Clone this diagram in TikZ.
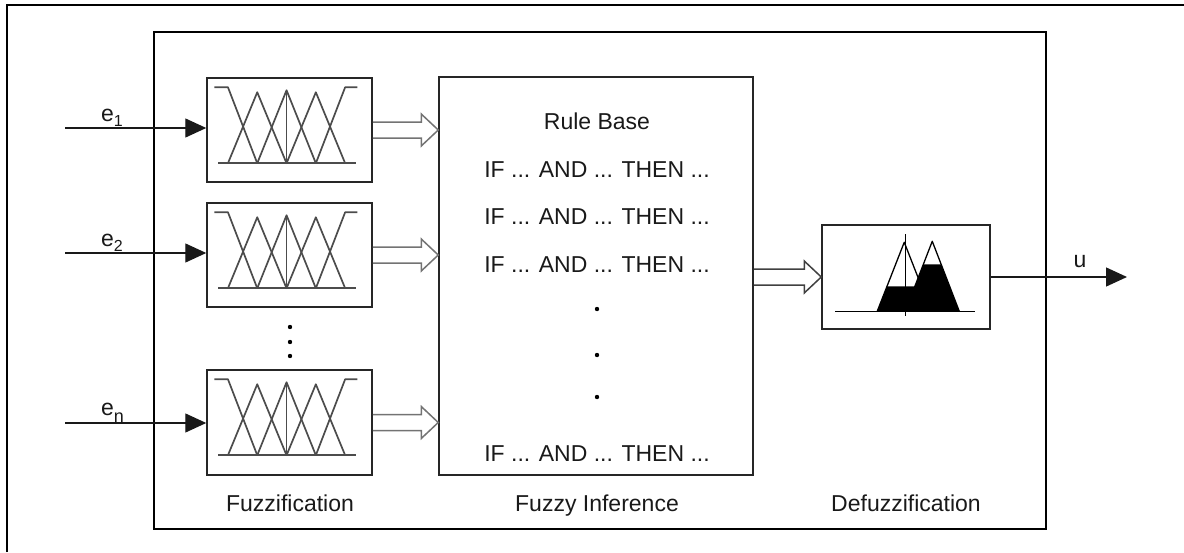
\documentclass[tikz,border=0pt]{standalone}
\usepackage{fontspec}
\setmainfont{Liberation Sans}
\usetikzlibrary{arrows.meta,calc}
\tikzset{
  frame/.style={draw=black, line width=1.5pt},
  boxstyle/.style={draw=black!85, line width=1.5pt, rectangle, inner sep=0pt},
  fset/.style={draw=black!70, line width=1.7pt, line join=round},
  lab/.style={font=\fontsize{23}{27}\selectfont, inner sep=0pt, anchor=base, text=black!90},
  inarrow/.style={draw=black!90, line width=1.4pt, -{Triangle[length=21pt,width=19pt]}},
  hollowfz/.style={draw=black!55, line width=1.5pt, line join=miter},
  hollowdf/.style={draw=black!75, line width=1.5pt, line join=miter},
}
\newcommand{\hollowarrow}[3]{%
  \draw[#1] let \p1=(#2), \p2=(#3) in
    (\x1,\y1+8pt) -- (\x2-17pt,\y1+8pt) -- (\x2-17pt,\y1+16pt) -- (\x2,\y1)
    -- (\x2-17pt,\y1-16pt) -- (\x2-17pt,\y1-8pt) -- (\x1,\y1-8pt);}
\newcommand{\fuzzsets}[1]{%
  \begin{scope}[shift={(#1.north west)}]
    \draw[fset] (12,86) -- (150,86);
    \draw[fset] (8,10) -- (21.7,10) -- (51,86);
    \draw[fset] (21.7,86) -- (51,15) -- (80.3,86);
    \draw[fset] (51,86) -- (80.3,13) -- (109.6,86);
    \draw[fset] (80.3,86) -- (109.6,15) -- (138.9,86);
    \draw[fset] (109.6,86) -- (138.9,10) -- (151,10);
    \draw[fset, -{Triangle[length=5pt,width=4pt]}] (80.3,13) -- (80.3,87);
  \end{scope}}
\begin{document}
\begin{tikzpicture}[x=1pt,y=-1pt]
\useasboundingbox (0,0) rectangle (1184,552);
% outer border (top and left)
\draw[frame] (7,552) -- (7,5) -- (1184,5);
% inner frame
\draw[frame] (154,32) rectangle (1046,529);

% boxes
\node[boxstyle, minimum width=165pt, minimum height=104pt] (fuzz1) at (289.5,130) {};
\node[boxstyle, minimum width=165pt, minimum height=104pt] (fuzz2) at (289.5,255) {};
\node[boxstyle, minimum width=165pt, minimum height=105pt] (fuzz3) at (289.5,422.5) {};
\node[boxstyle, minimum width=314pt, minimum height=398pt] (rule) at (596,276) {};
\node[boxstyle, minimum width=168pt, minimum height=104pt] (defuzz) at (906,277) {};

\fuzzsets{fuzz1}
\fuzzsets{fuzz2}
\fuzzsets{fuzz3}

% dots between fuzz boxes
\fill[black] (290,327) circle[radius=2.2];
\fill[black] (290,342) circle[radius=2.2];
\fill[black] (290,356) circle[radius=2.2];

% defuzzification graphic
\begin{scope}[shift={(defuzz.north west)}]
  \fill[black] (65.8,62) -- (56,87) -- (110,87) -- (100.2,62) -- cycle;
  \fill[black] (102.1,40) -- (84,87) -- (138,87) -- (119.9,40) -- cycle;
  \draw[black, line width=1.3pt, line join=round] (56,87) -- (83,18) -- (110,87);
  \draw[black, line width=1.3pt, line join=round] (84,87) -- (111,17) -- (138,87);
  \draw[black, line width=1.5pt] (14,87) -- (154,87);
  \draw[black, line width=1.5pt] (84,10) -- (84,92);
\end{scope}

% inputs
\coordinate (in1) at (65,128);
\coordinate (in2) at (65,253);
\coordinate (in3) at (65,423);
\draw[inarrow] (in1) -- (in1 -| fuzz1.west);
\draw[inarrow] (in2) -- (in2 -| fuzz2.west);
\draw[inarrow] (in3) -- (in3 -| fuzz3.west);
\node[lab, anchor=base west] (e1) at (101,121) {e\raisebox{-5pt}{\fontsize{16}{16}\selectfont 1}};
\node[lab, anchor=base west] (e2) at (101,246) {e\raisebox{-5pt}{\fontsize{16}{16}\selectfont 2}};
\node[lab, anchor=base west] (en) at (101,415) {e\raisebox{-7pt}{\fontsize{18}{18}\selectfont n}};

% hollow arrows
\hollowarrow{hollowfz}{fuzz1.east}{fuzz1.east -| rule.west}
\hollowarrow{hollowfz}{fuzz2.east}{fuzz2.east -| rule.west}
\hollowarrow{hollowfz}{fuzz3.east}{fuzz3.east -| rule.west}
\hollowarrow{hollowdf}{rule.east |- defuzz.west}{defuzz.west}

% output
\coordinate (out) at (1127,277);
\draw[inarrow] (defuzz.east) -- (out);
\node[lab] (ulab) at (1080,267) {u};

% rule base text
\node[lab] (rb) at (597,129) {Rule Base};
\node[lab] (r1) at (597,177) {IF ... AND ... THEN ...};
\node[lab] (r2) at (597,224) {IF ... AND ... THEN ...};
\node[lab] (r3) at (597,272) {IF ... AND ... THEN ...};
\fill[black] (597,309) circle[radius=2.2];
\fill[black] (597,355) circle[radius=2.2];
\fill[black] (597,397) circle[radius=2.2];
\node[lab] (rn) at (597,461) {IF ... AND ... THEN ...};

% bottom labels
\node[lab] (l1) at (290,511) {Fuzzification};
\node[lab] (l2) at (597,511) {Fuzzy Inference};
\node[lab] (l3) at (906,511) {Defuzzification};
\end{tikzpicture}
\end{document}
